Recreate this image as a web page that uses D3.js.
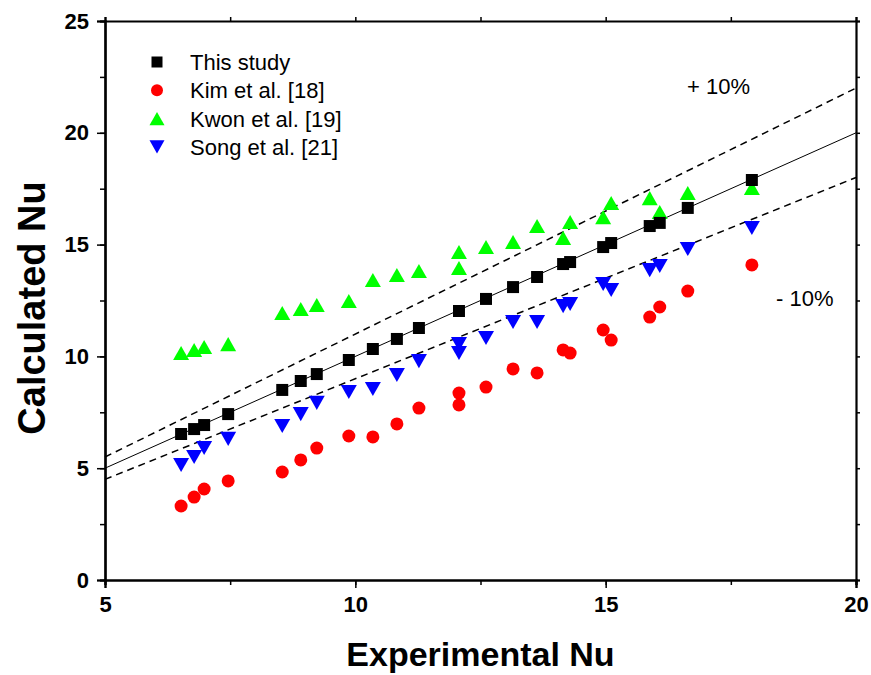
<!DOCTYPE html>
<html>
<head>
<meta charset="utf-8">
<script src="https://cdn.jsdelivr.net/npm/d3@7/dist/d3.min.js"></script>
<style>
  body { margin: 0; background: #fff; }
  svg { display: block; font-family: "Liberation Sans", Arial, sans-serif; }
  .tick-label { font-weight: bold; font-size: 22px; }
  .axis-title { font-weight: bold; font-size: 34px; }
  .legend-text, .band-text { font-size: 22px; }
</style>
</head>
<body>
<div id="chart"></div>
<script>
// series
const studyX = [6.52, 6.78, 6.98, 7.46, 8.54, 8.91, 9.23, 9.87, 10.35, 10.83, 11.27, 12.07,
                12.61, 13.15, 13.63, 14.15, 14.29, 14.95, 15.11, 15.88, 16.08, 16.64, 17.92];
const studyY = [6.53, 6.75, 6.93, 7.42, 8.50, 8.90, 9.21, 9.84, 10.33, 10.78, 11.27, 12.03,
                12.57, 13.10, 13.55, 14.13, 14.22, 14.89, 15.07, 15.83, 15.97, 16.64, 17.89];

const refX = [6.52, 6.78, 6.98, 7.46, 8.54, 8.91, 9.23, 9.87, 10.35, 10.83, 11.27, 12.07, 12.07,
              12.61, 13.15, 13.63, 14.15, 14.29, 14.95, 15.11, 15.88, 16.08, 16.64, 17.92];
const kimY  = [3.31, 3.71, 4.07, 4.43, 4.83, 5.37, 5.90, 6.44, 6.40, 6.98, 7.69, 8.36, 7.83,
               8.63, 9.44, 9.26, 10.29, 10.15, 11.18, 10.73, 11.76, 12.21, 12.92, 14.09];
const kwonY = [10.15, 10.29, 10.42, 10.55, 11.94, 12.12, 12.30, 12.48, 13.42, 13.64, 13.82, 14.67, 13.95,
               14.89, 15.12, 15.83, 15.30, 16.01, 16.23, 16.86, 17.08, 16.46, 17.31, 17.53];
const songY = [5.14, 5.50, 5.90, 6.31, 6.89, 7.42, 7.92, 8.41, 8.54, 9.17, 9.79, 10.55, 10.15,
               10.82, 11.54, 11.54, 12.25, 12.34, 13.24, 12.97, 13.86, 14.04, 14.80, 15.74];

const seriesNames = ["This study", "Kim et al. [18]", "Kwon et al. [19]", "Song et al. [21]"];
const xTicks = [5, 10, 15, 20];
const yTicks = [0, 5, 10, 15, 20, 25];
const bandFactors = [1.1, 1.0, 0.9];

const width = 871, height = 675;
const m = {top: 21, right: 15, bottom: 95, left: 105};

const svg = d3.select('#chart').append('svg')
  .attr('width', width)
  .attr('height', height);

const x = d3.scaleLinear().domain([5, 20]).range([m.left, width - m.right]);
const y = d3.scaleLinear().domain([0, 25]).range([height - m.bottom, m.top]);

// reference lines y = x and +/-10%
const lineGen = d3.line().x(d => x(d[0])).y(d => y(d[1]));
svg.selectAll('path.band')
  .data(bandFactors)
  .enter().append('path')
  .attr('class', 'band')
  .attr('d', f => lineGen([[5, 5 * f], [20, 20 * f]]))
  .attr('fill', 'none')
  .attr('stroke', '#000')
  .attr('stroke-width', f => f === 1 ? 1 : 1.5)
  .attr('stroke-dasharray', f => f === 1 ? null : '7,5');

// markers
const markers = {
  square: (s) => `M${-s/2},${-s/2}h${s}v${s}h${-s}Z`,
  circle: (s) => d3.symbol(d3.symbolCircle, Math.PI * s * s / 4)(),
  up: (s) => `M0,${-s*0.44}L${s/2},${s*0.44}L${-s/2},${s*0.44}Z`,
  down: (s) => `M0,${s*0.44}L${s/2},${-s*0.44}L${-s/2},${-s*0.44}Z`
};

const series = [
  {name: seriesNames[0], xs: studyX, ys: studyY, color: '#000', shape: 'square', size: 12},
  {name: seriesNames[1], xs: refX, ys: kimY, color: '#ff0000', shape: 'circle', size: 13},
  {name: seriesNames[2], xs: refX, ys: kwonY, color: '#00ff00', shape: 'up', size: 16},
  {name: seriesNames[3], xs: refX, ys: songY, color: '#0000ff', shape: 'down', size: 16}
];

// draw in reverse so squares stay on top
series.slice().reverse().forEach(s => {
  svg.append('g').selectAll('path')
    .data(s.xs.map((v, i) => [v, s.ys[i]]))
    .enter().append('path')
    .attr('d', markers[s.shape](s.size))
    .attr('transform', d => 'translate(' + x(d[0]) + ',' + y(d[1]) + ')')
    .attr('fill', s.color);
});

// axes
const xMinor = d3.range(5, 20.01, 2.5);
const yMinor = d3.range(0, 25.01, 2.5);

svg.append('g')
  .attr('transform', 'translate(0,' + y(0) + ')')
  .call(d3.axisBottom(x).tickValues(xMinor).tickSize(5).tickFormat(''));
svg.append('g')
  .attr('transform', 'translate(0,' + y(0) + ')')
  .call(d3.axisBottom(x).tickValues(xTicks).tickSize(8).tickPadding(8).tickFormat(d3.format('d')));

svg.append('g')
  .attr('transform', 'translate(' + x(5) + ',0)')
  .call(d3.axisLeft(y).tickValues(yMinor).tickSize(5).tickFormat(''));
svg.append('g')
  .attr('transform', 'translate(' + x(5) + ',0)')
  .call(d3.axisLeft(y).tickValues(yTicks).tickSize(8).tickPadding(8).tickFormat(d3.format('d')));

svg.append('g')
  .attr('transform', 'translate(0,' + y(25) + ')')
  .call(d3.axisTop(x).tickValues(xMinor).tickSize(4).tickFormat(''));
svg.append('g')
  .attr('transform', 'translate(' + x(20) + ',0)')
  .call(d3.axisRight(y).tickValues(yMinor).tickSize(4).tickFormat(''));

svg.selectAll('.domain').attr('stroke-width', 2.2).attr('stroke', '#000');
svg.selectAll('.tick line').attr('stroke-width', 1.5).attr('stroke', '#000');
svg.selectAll('.tick text')
  .attr('class', 'tick-label')
  .attr('fill', '#000')
  .style('font-family', '"Liberation Sans", Arial, sans-serif');

// axis titles
svg.append('text')
  .attr('class', 'axis-title')
  .attr('x', (x(5) + x(20)) / 2)
  .attr('y', 666)
  .attr('text-anchor', 'middle')
  .text('Experimental Nu');

svg.append('text')
  .attr('class', 'axis-title')
  .style('font-size', '38px')
  .attr('transform', 'translate(45,308) rotate(-90)')
  .attr('text-anchor', 'middle')
  .text('Calculated Nu');

// band labels
svg.append('text').attr('class', 'band-text')
  .attr('x', 687).attr('y', 94).text('+ 10%');
svg.append('text').attr('class', 'band-text')
  .attr('x', 776).attr('y', 306).text('- 10%');

// legend
const legend = svg.append('g').attr('transform', 'translate(157,62)');
series.forEach((s, i) => {
  const row = legend.append('g').attr('transform', 'translate(0,' + (i * 28.3) + ')');
  row.append('path')
    .attr('d', markers[s.shape](s.shape === 'square' ? 11 : s.size - 1))
    .attr('fill', s.color);
  row.append('text')
    .attr('class', 'legend-text')
    .attr('x', 33)
    .attr('y', 8)
    .text(s.name);
});
</script>
</body>
</html>
